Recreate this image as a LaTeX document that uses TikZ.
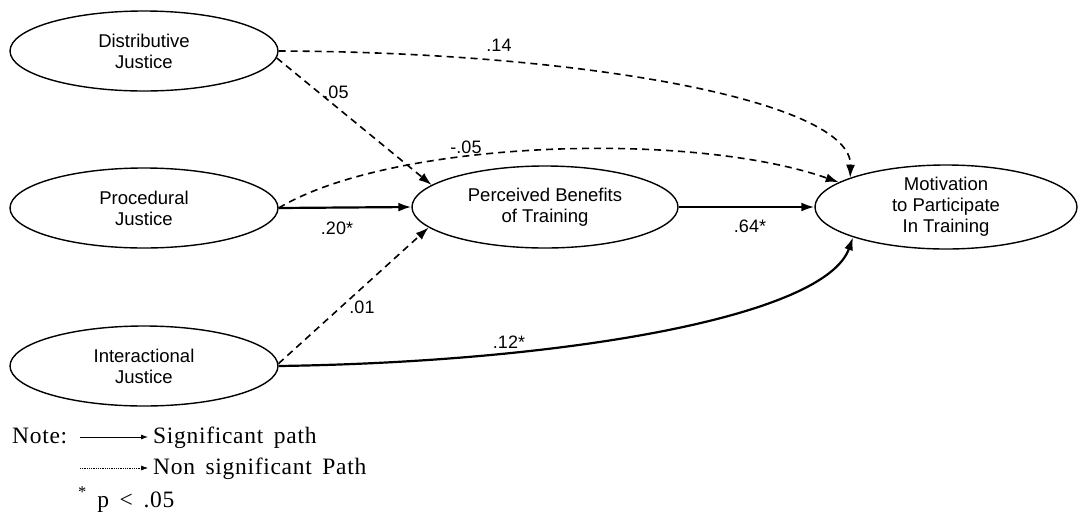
\documentclass[tikz,border=0pt]{standalone}
\usepackage{fontspec}
\setmainfont{Liberation Sans}
\newfontfamily\legendfont[LetterSpace=3,WordSpace=1.6]{Liberation Serif}
\usetikzlibrary{shapes.geometric,arrows.meta}
\begin{document}
\begin{tikzpicture}[x=1pt,y=-1pt,
  var/.style={ellipse,draw,line width=1.4pt,minimum width=268pt,minimum height=80pt,inner sep=0pt,align=center,font=\fontsize{18.5}{21}\selectfont},
  sig/.style={line width=2.2pt,-{Latex[length=13pt,width=9pt]}},
  nsig/.style={line width=1.6pt,dash pattern=on 7pt off 5pt,-{Latex[length=13pt,width=9pt]}},
  lbl/.style={font=\fontsize{18}{20}\selectfont,inner sep=0pt},
  leg/.style={font=\fontsize{23.5}{26}\legendfont,inner sep=0pt,anchor=base west},
]
\useasboundingbox (0,0) rectangle (1082,520);
\node[var] (D) at (144,51) {Distributive\\Justice};
\node[var] (P) at (144,208) {Procedural\\Justice};
\node[var] (I) at (144,366) {Interactional\\Justice};
\node[var,minimum width=266pt,minimum height=82pt] (B) at (545,207) {Perceived Benefits\\of Training};
\node[var,minimum width=262pt,minimum height=84pt] (M) at (946,207) {Motivation\\to Participate\\In Training};

\draw[nsig] (D.-3) -- (B.169);
\draw[nsig] (D.0) .. controls +(303,1) and +(2,-77) .. (M.163);
\draw[nsig] (P.0) .. controls +(113,-68) and +(-148,-52) .. (M.167);
\draw[sig] (P.0) -- (B.180);
\draw[sig] (B.0) -- (M.180);
\draw[nsig] (I.1) -- (B.190);
\draw[sig] (I.0) .. controls +(283,-4) and +(-28,80) .. (M.198);

\node[lbl] (l14) at (499,45) {.14};
\node[lbl] (l05) at (336,92) {.05};
\node[lbl] (lm05) at (466,147) {-.05};
\node[lbl] (l20) at (337,228) {.20*};
\node[lbl] (l64) at (750,226) {.64*};
\node[lbl] (l01) at (362,307) {.01};
\node[lbl] (l12) at (509,342) {.12*};

\node[leg] (note) at (12,443) {Note:};
\coordinate (s1) at (80,437); \coordinate (s2) at (148,437);
\draw[line width=0.8pt,-{Latex[length=7pt,width=5pt]}] (s1) -- (s2);
\node[leg] (sigt) at (153,443) {Significant path};
\coordinate (n1) at (80,468); \coordinate (n2) at (148,468);
\draw[line width=0.6pt,dash pattern=on 1pt off 0.8pt,-{Latex[length=7pt,width=5pt]}] (n1) -- (n2);
\node[leg] (nsigt) at (153,474) {Non significant Path};
\node[leg] (pt) at (78,507) {\textsuperscript{*} p < .05};
\end{tikzpicture}
\end{document}
